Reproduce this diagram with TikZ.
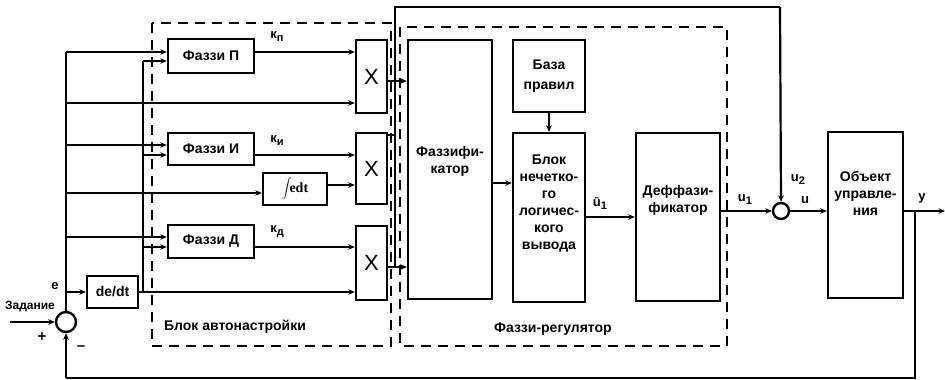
\documentclass[tikz,border=0pt]{standalone}
\usepackage{fontspec}
\setmainfont{Liberation Sans}
\newfontfamily\serifbf{Liberation Serif}
\usetikzlibrary{arrows.meta}
\begin{document}
\begin{tikzpicture}[x=1pt,y=-1pt,
  blk/.style={draw, line width=2.4pt, inner sep=0pt, font=\fontsize{14}{16}\selectfont\bfseries, align=center},
  txt/.style={inner sep=0pt, font=\fontsize{14}{17}\selectfont\bfseries, align=center},
  lbl/.style={inner sep=0pt, font=\fontsize{13}{15}\selectfont\bfseries},
  ln/.style={line width=2.2pt},
  arr/.style={line width=2.2pt, -{Stealth[length=6.5pt,width=5.5pt]}},
  dsh/.style={line width=2.6pt, dash pattern=on 10pt off 7pt}]
\useasboundingbox (0,0) rectangle (945,380);
% dashed groups
\draw[dsh] (152,23) rectangle (391,346);
\draw[dsh] (400,27) rectangle (727,346);
\node[txt] (lauto) at (235,327) {Блок автонастройки};
\node[txt] (lfreg) at (553,329) {Фаззи-регулятор};
% blocks
\node[blk, minimum width=86pt, minimum height=34pt] (fp) at (211,56) {Фаззи П};
\node[blk, minimum width=86pt, minimum height=32pt] (fi) at (211,149) {Фаззи И};
\node[blk, minimum width=86pt, minimum height=33pt] (fd) at (211,241.5) {Фаззи Д};
\node[blk, minimum width=51pt, minimum height=32pt] (dedt) at (112.5,292) {de/dt};
\node[blk, minimum width=64pt, minimum height=32pt, font=\fontsize{14}{16}\selectfont\bfseries\serifbf] (integ) at (295,189) {$\displaystyle\int$\!edt};
\node[blk, minimum width=31pt, minimum height=73pt, font=\fontsize{22}{24}\selectfont] (x1) at (371.5,76.5) {X};
\node[blk, minimum width=31pt, minimum height=71pt, font=\fontsize{22}{24}\selectfont] (x2) at (371.5,168.5) {X};
\node[blk, minimum width=31pt, minimum height=74pt, font=\fontsize{22}{24}\selectfont] (x3) at (371.5,263) {X};
\node[blk, minimum width=84pt, minimum height=259pt] (fuz) at (450,169.5) {};
\node[txt] (fuzt) at (450,161) {Фаззифи-\\катор};
\node[blk, minimum width=72pt, minimum height=72pt, font=\fontsize{14}{20}\selectfont\bfseries] (base) at (549,76) {База\\правил};
\node[blk, minimum width=72pt, minimum height=169pt] (inf) at (549,217.5) {};
\node[txt] (inft) at (549,204) {Блок\\нечетко-\\го\\логичес-\\кого\\вывода};
\node[blk, minimum width=84pt, minimum height=168pt] (def) at (678,217) {};
\node[txt] (deft) at (678,200) {Деффази-\\фикатор};
\node[blk, minimum width=75pt, minimum height=166pt] (obj) at (865.5,215) {};
\node[txt] (objt) at (865.5,193) {Объект\\управле-\\ния};
\node[draw, circle, line width=2.4pt, minimum size=20pt, inner sep=0pt] (cmp) at (66,322) {};
\node[draw, circle, line width=2.4pt, minimum size=16pt, inner sep=0pt] (sum) at (781,211) {};
% reference input
\coordinate (zin) at (10,322);
\draw[arr] (zin) -- (cmp.west);
\node[lbl, font=\fontsize{12}{14}\selectfont\bfseries] (zl) at (30,307) {Задание};
\node[lbl, font=\fontsize{15}{15}\selectfont\bfseries] (plus) at (42,337) {+};
\node[lbl, font=\fontsize{15}{15}\selectfont\bfseries] (minus) at (81,348) {–};
\node[lbl] (el) at (55,286) {e};
% e bus
\coordinate (etop) at (66,52);
\draw[ln] (cmp.north) -- (etop);
\draw[arr] (etop) -- (fp.west |- 0,52);
\draw[arr] (66,103) -- (x1.west |- 0,103);
\draw[arr] (66,145) -- (fi.west |- 0,145);
\draw[arr] (66,193) -- (integ.west |- 0,193);
\draw[arr] (66,237) -- (fd.west |- 0,237);
\draw[arr] (66,292) -- (dedt.west);
% de/dt bus
\coordinate (dtop) at (143,61);
\draw[arr] (dedt.east) -- (x3.west |- 0,292);
\draw[ln] (143,292) -- (dtop);
\draw[arr] (dtop) -- (fp.west |- 0,61);
\draw[arr] (143,155) -- (fi.west |- 0,155);
\draw[arr] (143,247) -- (fd.west |- 0,247);
% gains
\draw[arr] (fp.east |- 0,52) -- (x1.west |- 0,52);
\draw[arr] (fi.east |- 0,155) -- (x2.west |- 0,155);
\draw[arr] (integ.east |- 0,185) -- (x2.west |- 0,185);
\draw[arr] (fd.east |- 0,247) -- (x3.west |- 0,247);
\node[lbl] (kp) at (277,37) {к\raisebox{-0.45ex}{\fontsize{11}{11}\selectfont п}};
\node[lbl] (ki) at (277,141) {к\raisebox{-0.45ex}{\fontsize{11}{11}\selectfont и}};
\node[lbl] (kd) at (277,232) {к\raisebox{-0.45ex}{\fontsize{11}{11}\selectfont д}};
% X outputs
\draw[arr] (x1.east |- 0,81) -- (fuz.west |- 0,81);
\draw[arr] (x3.east |- 0,267) -- (fuz.west |- 0,267);
\draw[ln] (x2.east |- 0,135) -- (395,135);
\coordinate (bbot) at (395,267);
\coordinate (btop) at (395,7);
\coordinate (bright) at (780,7);
\draw[ln] (bbot) -- (btop) -- (bright);
\draw[arr] (bright) -- (sum.north);
% fuzzy regulator internals
\draw[arr] (fuz.east |- 0,183) -- (inf.west |- 0,183);
\draw[arr] (base.south) -- (inf.north);
\draw[arr] (inf.east |- 0,217) -- (def.west |- 0,217);
\node[lbl] (u1b) at (600,204) {ū\raisebox{-0.45ex}{\fontsize{11}{11}\selectfont 1}};
\draw[arr] (def.east |- 0,211) -- (sum.west);
\node[lbl] (u1) at (745,200) {u\raisebox{-0.45ex}{\fontsize{11}{11}\selectfont 1}};
\node[lbl] (u2) at (798,180) {u\raisebox{-0.45ex}{\fontsize{11}{11}\selectfont 2}};
\draw[arr] (sum.east) -- (obj.west |- 0,211);
\node[lbl] (ul) at (805,200) {u};
% output and feedback
\coordinate (yout) at (945,211);
\coordinate (yj) at (915,211);
\draw[arr] (obj.east |- 0,211) -- (yout);
\node[lbl] (yl) at (922,198) {y};
\coordinate (fb1) at (915,378);
\coordinate (fb2) at (66,378);
\draw[ln] (yj) -- (fb1) -- (fb2);
\draw[arr] (fb2) -- (cmp.south);
\end{tikzpicture}
\end{document}
